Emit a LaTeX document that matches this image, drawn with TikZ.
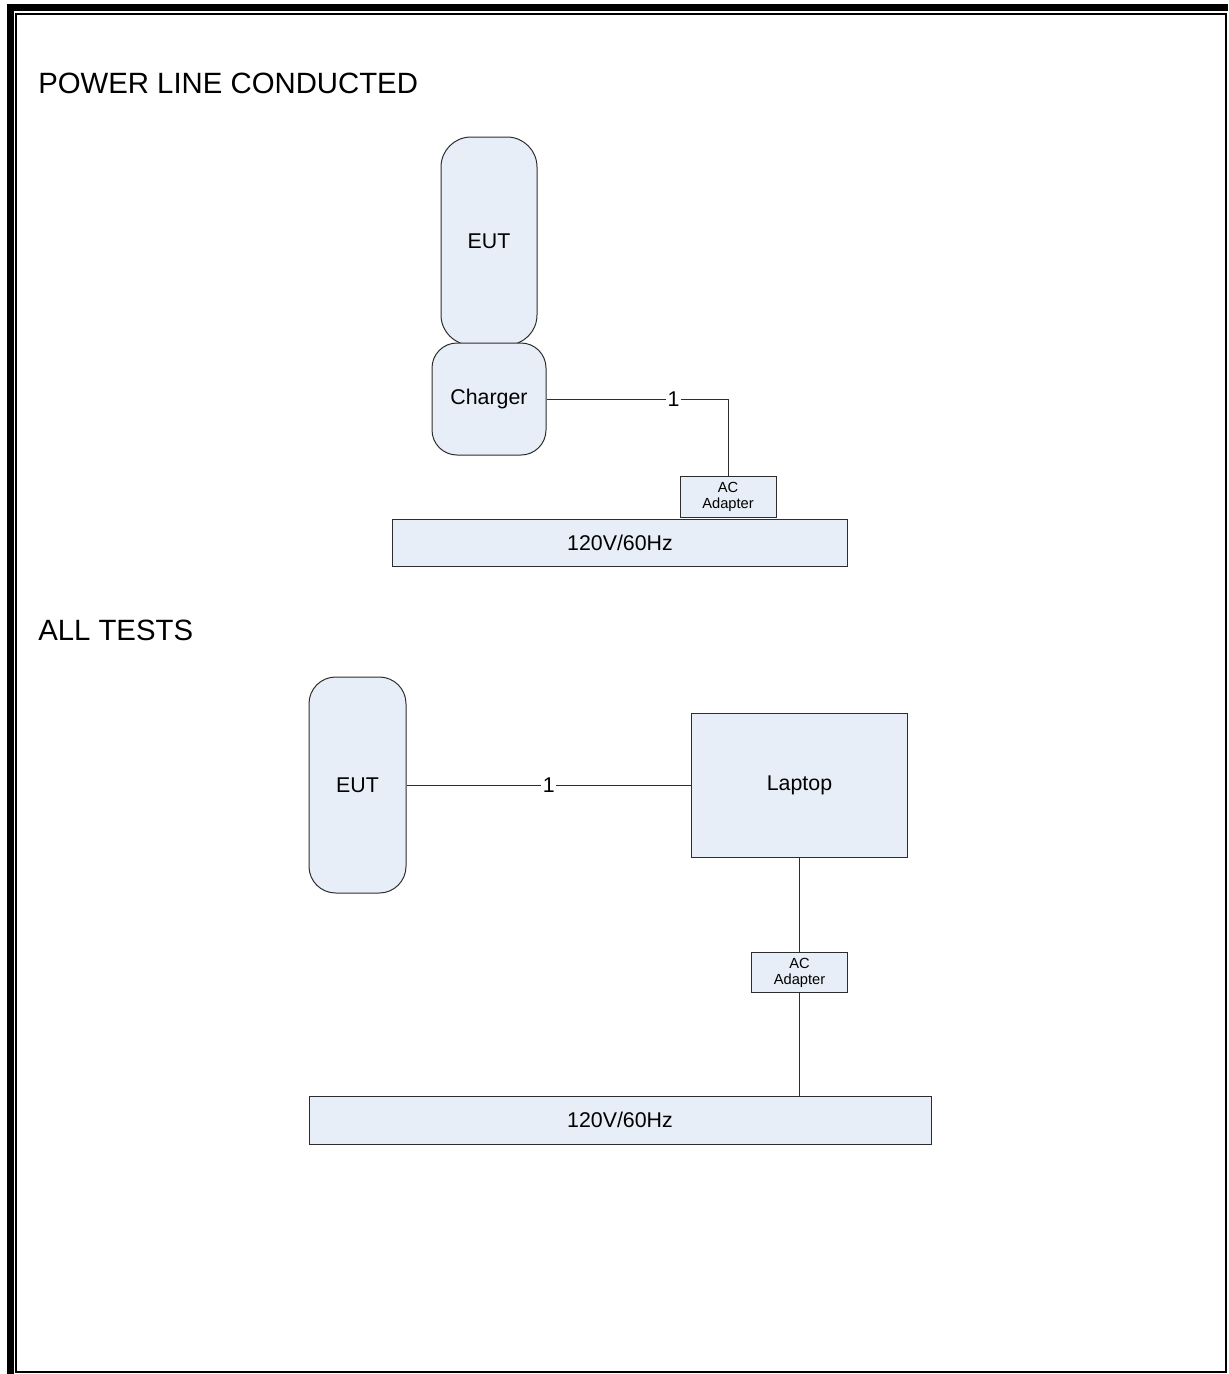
\documentclass[tikz,border=0pt]{standalone}
\usepackage{fontspec}
\setmainfont{Liberation Sans}
\definecolor{boxfill}{RGB}{232,238,247}
\definecolor{boxline}{RGB}{45,45,45}
\begin{document}
\begin{tikzpicture}[x=0.75pt,y=-0.75pt,
  box/.style={draw=boxline, fill=boxfill, line width=0.75pt, inner sep=0pt,
    font=\fontsize{16}{18}\selectfont, align=center},
  rbox/.style={box, rounded corners=#1},
  smallbox/.style={box, font=\fontsize{11}{12}\selectfont},
  wire/.style={draw=boxline, line width=0.75pt},
  lbl/.style={fill=white, inner sep=1pt, font=\fontsize{16}{18}\selectfont},
  title/.style={anchor=base west, font=\fontsize{22}{26}\selectfont, inner sep=0pt}]
\useasboundingbox (0,0) rectangle (1228,1374);
% frame
\draw[line width=5.25pt] (10,1374) -- (10,7.5) -- (1228,7.5);
\draw[line width=1.5pt] (16,13.5) rectangle (1225.5,1372);

% titles
\node[title] (t1) at (38,93) {POWER LINE CONDUCTED};
\node[title] (t2) at (38,640) {ALL TESTS};

% --- power line conducted setup
\node[rbox=22.5pt, minimum width=72pt, minimum height=156pt] (eut1) at (489,241) {EUT};
\node[rbox=18.75pt, minimum width=85.5pt, minimum height=84pt] (chg) at (489,399) {Charger};
\node[smallbox, minimum width=72pt, minimum height=30.75pt] (ac1) at (728,496.5) {AC\\Adapter};
\node[box, minimum width=341.25pt, minimum height=35.6pt] (mains1) at (620,543.25) {120V/60Hz};
\draw[wire] (chg.east) -| node[lbl, pos=0.35] {1} (ac1.north);

% --- all tests setup
\node[rbox=20pt, minimum width=72.75pt, minimum height=162pt] (eut2) at (357.5,785) {EUT};
\node[box, minimum width=162pt, minimum height=108pt] (laptop) at (799.5,785) {Laptop};
\node[smallbox, minimum width=71.6pt, minimum height=30pt] (ac2) at (799.5,972.5) {AC\\Adapter};
\node[box, minimum width=466.5pt, minimum height=36pt] (mains2) at (620,1120) {120V/60Hz};
\draw[wire] (eut2.east) -- node[lbl, pos=0.5] {1} (laptop.west);
\draw[wire] (laptop.south) -- (ac2.north);
\draw[wire] (ac2.south) -- (ac2.south |- mains2.north);
\end{tikzpicture}
\end{document}
